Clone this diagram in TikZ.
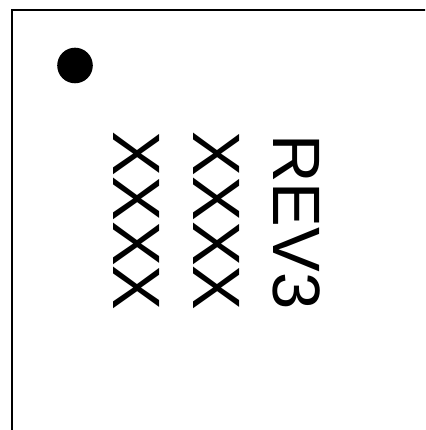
\documentclass[tikz,border=0pt]{standalone}
\usepackage{fontspec}
\setmainfont{Liberation Sans}
\begin{document}
\begin{tikzpicture}[x=1pt, y=-1pt,
  marking/.style={inner sep=0pt, rotate=-90, font=\fontsize{67}{80}\selectfont}]
  \clip (0,0) rectangle (425,430);
  \draw[line width=1.6pt] (12,445) -- (12,10) -- (440,10);
  \fill (75,65.5) circle (17.8);
  \node[marking] (lotA) at (137,221) {XXXX};
  \node[marking] (lotB) at (217,221) {XXXX};
  \node[marking] (rev) at (297,222) {REV3};
\end{tikzpicture}
\end{document}
